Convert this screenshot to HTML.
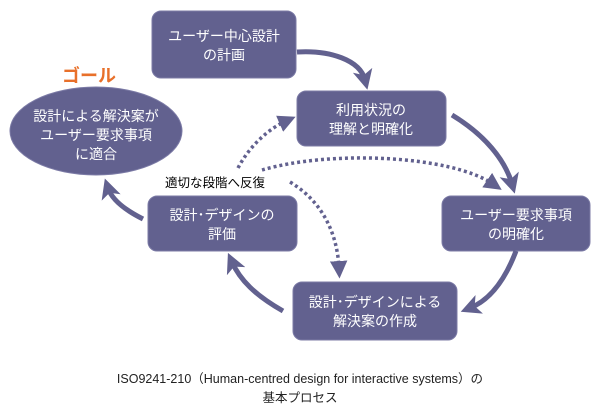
<!DOCTYPE html>
<html><head><meta charset="utf-8"><style>
body{margin:0;background:#fff;}
svg{display:block}
text{font-family:"Liberation Sans","Noto Sans CJK JP",sans-serif;}
.w{fill:#fff;font-size:14px;text-anchor:middle}
</style></head><body>
<svg width="600" height="415" viewBox="0 0 600 415" xmlns="http://www.w3.org/2000/svg">
<defs>
<marker id="a" markerWidth="4" markerHeight="4" refX="2" refY="2" orient="auto" markerUnits="strokeWidth"><path d="M0,0 L4,2 L0,4 L1,2 z" fill="#62618f"/></marker>
<marker id="d" markerWidth="5" markerHeight="5" refX="2" refY="2.5" orient="auto" markerUnits="strokeWidth"><path d="M0,0 L5,2.5 L0,5 z" fill="#62618f"/></marker>
</defs>
<g fill="#62618f" stroke="#7c7ba6" stroke-width="1">
<rect x="152" y="11" width="144" height="67" rx="9"/>
<rect x="297" y="91" width="149" height="55" rx="9"/>
<rect x="442" y="196" width="148" height="55" rx="9"/>
<rect x="293" y="282" width="164" height="58" rx="9"/>
<rect x="148" y="196" width="149" height="55" rx="9"/>
<ellipse cx="96" cy="131" rx="86" ry="44"/>
</g>
<g fill="none" stroke="#62618f" stroke-width="5">
<path d="M297,52 C330,50 360,60 365,80" marker-end="url(#a)"/>
<path d="M452,115 C485,135 505,160 512,184" marker-end="url(#a)"/>
<path d="M516,251 C505,280 490,300 470,308" marker-end="url(#a)"/>
<path d="M283,311 C255,295 240,280 232,262" marker-end="url(#a)"/>
<path d="M143,219 C125,210 112,200 108,188" marker-end="url(#a)"/>
</g>
<g fill="none" stroke="#62618f" stroke-width="3.5" stroke-dasharray="3,3">
<path d="M238,168 C250,145 270,128 286,121" marker-end="url(#d)"/>
<path d="M262,170 C330,150 450,155 493,184" marker-end="url(#d)"/>
<path d="M290,182 C320,200 337,230 339,268" marker-end="url(#d)"/>
</g>
<text class="w" x="224" y="41">ユーザー中心設計</text>
<text class="w" x="224" y="60">の計画</text>
<text class="w" x="371" y="115">利用状況の</text>
<text class="w" x="371" y="134">理解と明確化</text>
<text class="w" x="516" y="220">ユーザー要求事項</text>
<text class="w" x="516" y="239">の明確化</text>
<text class="w" x="375" y="307">設計･デザインによる</text>
<text class="w" x="375" y="326">解決案の作成</text>
<text class="w" x="222" y="220">設計･デザインの</text>
<text class="w" x="222" y="239">評価</text>
<text class="w" x="96" y="121">設計による解決案が</text>
<text class="w" x="96" y="140">ユーザー要求事項</text>
<text class="w" x="96" y="159">に適合</text>
<text x="62" y="82" fill="#e8702a" font-size="18" font-weight="bold">ゴール</text>
<text x="165" y="187" fill="#000" font-size="12.5">適切な段階へ反復</text>
<text x="300" y="383" fill="#222" font-size="12.5" text-anchor="middle">ISO9241-210（Human-centred design for interactive systems）の</text>
<text x="300" y="402" fill="#222" font-size="12.5" text-anchor="middle">基本プロセス</text>
</svg>
</body></html>
